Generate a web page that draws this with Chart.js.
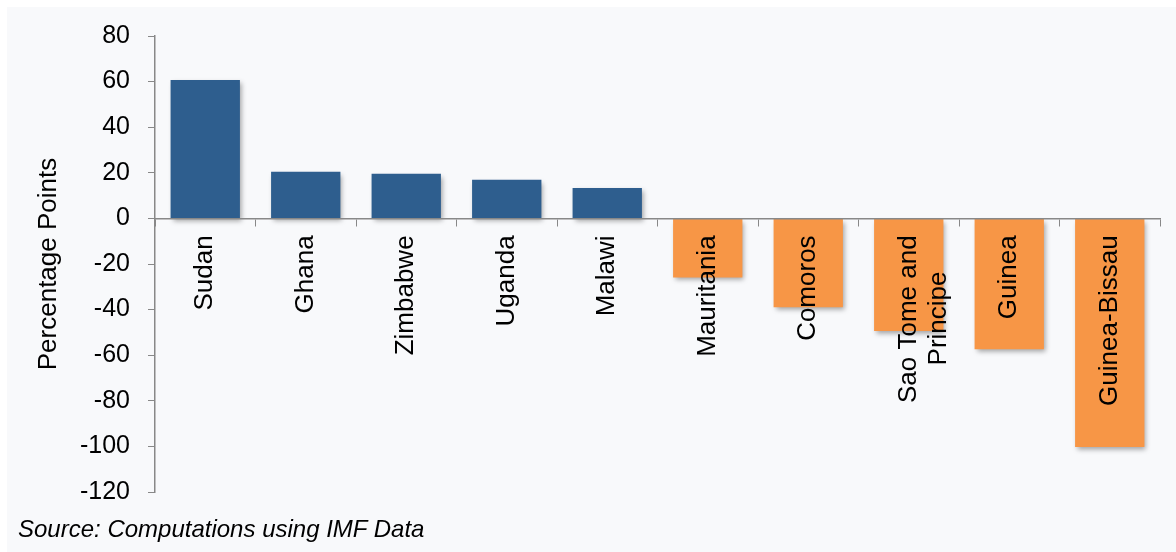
<!DOCTYPE html>
<html>
<head>
<meta charset="utf-8">
<script src="https://cdn.jsdelivr.net/npm/chart.js@4/dist/chart.umd.min.js"></script>
<style>
  html, body { margin: 0; padding: 0; background: #fff; }
  #bg { position: absolute; left: 7px; top: 7px; width: 1169px; height: 545px; background: #f8f9fb; }
  #chart { position: absolute; left: 0; top: 0; }
  #source { position: absolute; left: 18px; top: 515px; font: italic 24px "Liberation Sans", Arial, sans-serif; color: #000; }
</style>
</head>
<body>
<div id="bg"></div>
<canvas id="chart" width="1176" height="552"></canvas>
<div id="source">Source: Computations using IMF Data</div>
<script>
var countries = ['Sudan', 'Ghana', 'Zimbabwe', 'Uganda', 'Malawi', 'Mauritania', 'Comoros', ['Sao Tome and', 'Principe'], 'Guinea', 'Guinea-Bissau'];
var values = [60.7, 20.5, 19.6, 17, 13.3, -25.9, -39, -49.4, -57.4, -100.3];
var yTicks = [-120, -100, -80, -60, -40, -20, 0, 20, 40, 60, 80];

var fontFamily = '"Liberation Sans", Arial, sans-serif';
var labelSize = 26;
var blue = '#2e5e8e';
var orange = '#f79646';

// centre the shorter line of a two line label (labels are drawn right-aligned when rotated)
var measureCtx = document.createElement('canvas').getContext('2d');
measureCtx.font = labelSize + 'px ' + fontFamily;
function centreLines(lines) {
  if (!Array.isArray(lines)) return lines;
  var widths = lines.map(function(l) { return measureCtx.measureText(l).width; });
  var maxW = Math.max.apply(null, widths);
  var sp = measureCtx.measureText(' ').width;
  return lines.map(function(l, i) {
    var n = Math.round((maxW - widths[i]) / 2 / sp);
    return l + new Array(n + 1).join(' ');
  });
}

var barShadow = {
  id: 'barShadow',
  beforeDatasetsDraw: function(chart) {
    var ctx = chart.ctx;
    ctx.save();
    ctx.shadowColor = 'rgba(0,0,0,0.35)';
    ctx.shadowBlur = 5;
    ctx.shadowOffsetX = 2;
    ctx.shadowOffsetY = 3;
  },
  afterDatasetsDraw: function(chart) {
    chart.ctx.restore();
  }
};

var ctx = document.getElementById('chart');
var chart = new Chart(ctx, {
  type: 'bar',
  data: {
    labels: countries,
    datasets: [{
      data: values,
      backgroundColor: values.map(function(v) { return v >= 0 ? blue : orange; }),
      borderWidth: 0,
      categoryPercentage: 1,
      barPercentage: 0.69
    }]
  },
  options: {
    responsive: false,
    animation: false,
    layout: { padding: { left: 16, top: 36, right: 16, bottom: 60 } },
    plugins: { legend: { display: false }, tooltip: { enabled: false } },
    scales: {
      x: {
        position: { y: 0 },
        afterFit: function(scale) {
          scale.paddingLeft = 0;
          scale.paddingRight = 0;
        },
        grid: { display: true, drawOnChartArea: false, color: '#888', tickLength: 7, offset: true, z: 1 },
        border: { color: '#888', width: 1.5, z: 1 },
        ticks: {
          z: 2,
          autoSkip: false,
          minRotation: 90,
          maxRotation: 90,
          padding: 10,
          color: '#000',
          font: { family: fontFamily, size: labelSize, lineHeight: 1.15 },
          callback: function(value, index) { return centreLines(countries[index]); }
        }
      },
      y: {
        min: -120,
        max: 80,
        afterBuildTicks: function(scale) {
          scale.ticks = yTicks.map(function(v) { return { value: v }; });
        },
        afterFit: function(scale) {
          scale.width = 139;
        },
        grid: { display: true, drawOnChartArea: false, color: '#888', tickLength: 7 },
        border: { color: '#888', width: 1.5 },
        ticks: {
          padding: 18,
          color: '#000',
          font: { family: fontFamily, size: 25 }
        },
        title: {
          display: true,
          text: 'Percentage Points',
          color: '#000',
          font: { family: fontFamily, size: 26 },
          padding: { top: 17, bottom: 0 }
        }
      }
    }
  },
  plugins: [barShadow]
});
</script>
</body>
</html>
